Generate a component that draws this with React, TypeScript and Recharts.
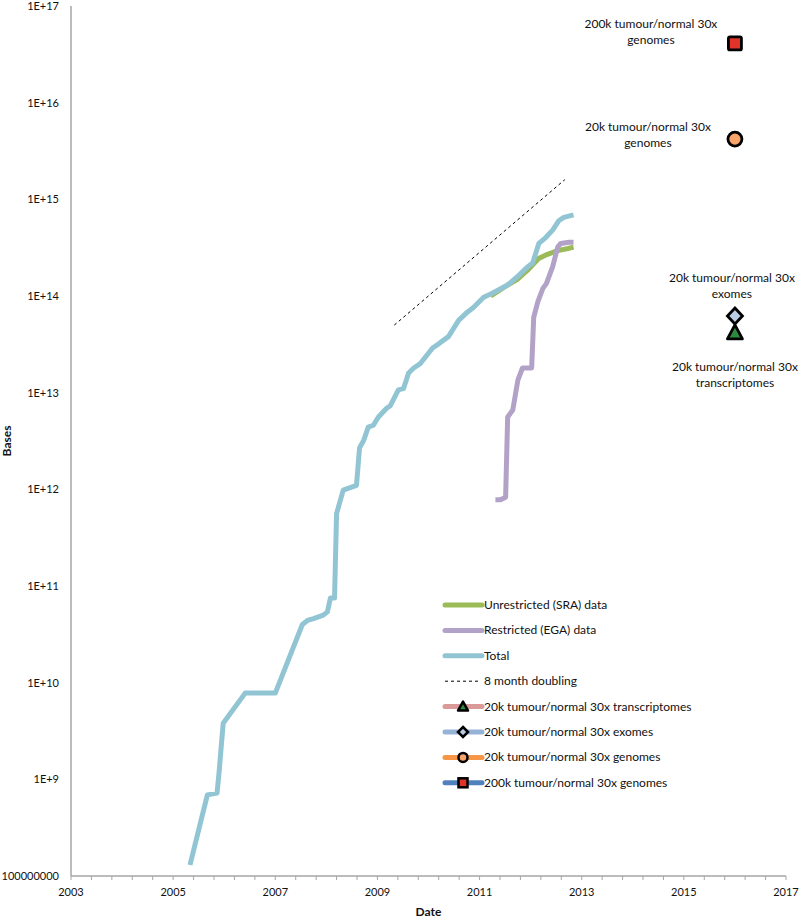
import { ComposedChart, Line, Scatter, XAxis, YAxis } from 'recharts';

const font = 'Lato, "Open Sans", sans-serif';

// years (decimal) and bases
const totalYears = [
  2005.33, 2005.67, 2005.86, 2005.9, 2005.98, 2006.41, 2007.0, 2007.53, 2007.63, 2007.75,
  2007.94, 2008.02, 2008.08, 2008.16, 2008.2, 2008.33, 2008.59, 2008.65, 2008.73, 2008.82,
  2008.92, 2009.02, 2009.18, 2009.25, 2009.41, 2009.51, 2009.61, 2009.71, 2009.84, 2010.08,
  2010.2, 2010.39, 2010.59, 2010.76, 2010.88, 2011.08, 2011.22, 2011.55, 2011.75, 2011.94,
  2012.04, 2012.16, 2012.29, 2012.43, 2012.55, 2012.65, 2012.84,
];
const totalBases = [
  1.3e8, 6.9e8, 7.2e8, 1.2e9, 3.8e9, 7.8e9, 7.8e9, 4.0e10, 4.4e10, 4.6e10,
  5.0e10, 5.4e10, 7.5e10, 7.5e10, 5.6e11, 9.8e11, 1.1e12, 2.7e12, 3.2e12, 4.4e12,
  4.6e12, 5.6e12, 6.9e12, 7.3e12, 1.07e13, 1.1e13, 1.6e13, 1.8e13, 2.0e13, 2.9e13,
  3.2e13, 3.8e13, 5.6e13, 6.8e13, 7.6e13, 9.7e13, 1.05e14, 1.3e14, 1.6e14, 2.0e14,
  2.2e14, 3.5e14, 4.0e14, 4.8e14, 6.0e14, 6.5e14, 6.9e14,
];

const sraYears = [2011.22, 2011.55, 2011.75, 2011.94, 2012.16, 2012.33, 2012.53, 2012.73, 2012.84];
const sraBases = [1.0e14, 1.3e14, 1.5e14, 1.85e14, 2.45e14, 2.7e14, 2.95e14, 3.1e14, 3.2e14];

const egaYears = [
  2011.31, 2011.41, 2011.51, 2011.55, 2011.65, 2011.75, 2011.84, 2012.02, 2012.06, 2012.14,
  2012.24, 2012.31, 2012.43, 2012.53, 2012.59, 2012.75, 2012.84,
];
const egaBases = [
  7.8e11, 7.8e11, 8.3e11, 5.6e12, 6.6e12, 1.35e13, 1.8e13, 1.8e13, 6.0e13, 8.7e13,
  1.2e14, 1.35e14, 2.0e14, 3.2e14, 3.5e14, 3.6e14, 3.6e14,
];

const doublingYears = [2009.33, 2012.67];
const doublingBases = [5e13, 1.6e15];

const projectionYear = 2016;
const transcriptomeBases = 4.2e13;
const exomeBases = 6.2e13;
const genome20kBases = 4.2e15;
const genome200kBases = 4.1e16;

const yTicks = [1e8, 1e9, 1e10, 1e11, 1e12, 1e13, 1e14, 1e15, 1e16, 1e17];
const xLabels = [2003, 2005, 2007, 2009, 2011, 2013, 2015, 2017];
const xTicks = Array.from({ length: 36 }, (_, i) => Math.round((2003 + i * 0.4) * 10) / 10);

const legendItems = [
  'Unrestricted (SRA) data',
  'Restricted (EGA) data',
  'Total',
  '8 month doubling',
  '20k tumour/normal 30x transcriptomes',
  '20k tumour/normal 30x exomes',
  '20k tumour/normal 30x genomes',
  '200k tumour/normal 30x genomes',
];

const pts = (xs: number[], ys: number[]) => xs.map((x, i) => ({ x, y: ys[i] }));

const fmtY = (v: number) => (v === 1e8 ? '100000000' : `1E+${Math.round(Math.log10(v))}`);
const fmtX = (v: number) => (xLabels.includes(v) ? String(v) : '');

const textStyle = { fontFamily: font, fontSize: 12, fill: '#111' };
const tickStyle = { fontFamily: font, fontSize: 11, fill: '#111' };

function TwoLines({ x, y, lines }: { x: number; y: number; lines: string[] }) {
  return (
    <text x={x} y={y} textAnchor="middle" style={textStyle}>
      {lines.map((l, i) => (
        <tspan key={i} x={x} dy={i === 0 ? 0 : 16}>
          {l}
        </tspan>
      ))}
    </text>
  );
}

const SquareMark = (p: any) => (
  <g>
    <rect x={p.cx - 6.5} y={p.cy - 6.5} width={13} height={13} rx={1.5} fill="#E2332B" stroke="#000" strokeWidth={2.8} />
    <TwoLines x={p.cx - 84} y={p.cy - 15} lines={['200k tumour/normal 30x', 'genomes']} />
  </g>
);

const CircleMark = (p: any) => (
  <g>
    <circle cx={p.cx} cy={p.cy} r={7} fill="#F9A46B" stroke="#000" strokeWidth={2.8} />
    <TwoLines x={p.cx - 87} y={p.cy - 8} lines={['20k tumour/normal 30x', 'genomes']} />
  </g>
);

const DiamondMark = (p: any) => (
  <g>
    <path
      d={`M${p.cx},${p.cy - 8} L${p.cx + 7.5},${p.cy} L${p.cx},${p.cy + 8} L${p.cx - 7.5},${p.cy} Z`}
      fill="#B9CDE5"
      stroke="#000"
      strokeWidth={2.8}
    />
    <TwoLines x={p.cx - 3} y={p.cy - 34} lines={['20k tumour/normal 30x', 'exomes']} />
  </g>
);

const TriangleMark = (p: any) => (
  <g>
    <path
      d={`M${p.cx},${p.cy - 7.5} L${p.cx + 7.5},${p.cy + 6.5} L${p.cx - 7.5},${p.cy + 6.5} Z`}
      fill="#2E8B3E"
      stroke="#000"
      strokeWidth={2.8}
      strokeLinejoin="round"
    />
    <TwoLines x={p.cx} y={p.cy + 39} lines={['20k tumour/normal 30x', 'transcriptomes']} />
  </g>
);

function LegendBox() {
  const x0 = 445;
  const x1 = 482;
  const mx = 463;
  const rowY = (i: number) => 605 + i * 25.4;
  const colors = ['#9BBB59', '#B3A2C7', '#92C5D3'];
  const projColors = ['#DA9A98', '#95B3D7', '#F79646', '#4F81BD'];
  return (
    <svg
      width={800}
      height={918}
      style={{ position: 'absolute', left: 0, top: 0, pointerEvents: 'none' }}
    >
      {legendItems.map((label, i) => {
        const y = rowY(i);
        let mark = null;
        if (i < 3) {
          mark = <line x1={x0} x2={x1} y1={y} y2={y} stroke={colors[i]} strokeWidth={5} strokeLinecap="round" />;
        } else if (i === 3) {
          mark = <line x1={x0} x2={x1 - 4} y1={y} y2={y} stroke="#000" strokeWidth={1} strokeDasharray="3 3" />;
        } else {
          const c = projColors[i - 4];
          const line = <line x1={x0} x2={x1} y1={y} y2={y} stroke={c} strokeWidth={5} strokeLinecap="round" />;
          let m = null;
          if (i === 4)
            m = <path d={`M${mx},${y - 5} L${mx + 5},${y + 4} L${mx - 5},${y + 4} Z`} fill="#2E8B3E" stroke="#000" strokeWidth={2.5} strokeLinejoin="round" />;
          if (i === 5)
            m = <path d={`M${mx},${y - 5} L${mx + 5},${y} L${mx},${y + 5} L${mx - 5},${y} Z`} fill="#B9CDE5" stroke="#000" strokeWidth={2.5} />;
          if (i === 6) m = <circle cx={mx} cy={y} r={4.5} fill="#F9A46B" stroke="#000" strokeWidth={2.5} />;
          if (i === 7)
            m = <rect x={mx - 4.5} y={y - 4.5} width={9} height={9} fill="#E2332B" stroke="#000" strokeWidth={2.5} />;
          mark = (
            <g>
              {line}
              {m}
            </g>
          );
        }
        return (
          <g key={label}>
            {mark}
            <text x={x1 + 2} y={y + 4} style={textStyle}>
              {label}
            </text>
          </g>
        );
      })}
    </svg>
  );
}

export default function App() {
  return (
    <div style={{ position: 'absolute', left: 0, top: 0, width: 800, height: 918, background: '#fff' }}>
      <ComposedChart width={800} height={918} margin={{ top: 6, right: 14, bottom: 0, left: 0 }}>
        <XAxis
          type="number"
          dataKey="x"
          domain={[2003, 2017]}
          ticks={xTicks}
          interval={0}
          tickFormatter={fmtX}
          height={42}
          tickSize={4}
          tickMargin={8}
          axisLine={{ stroke: '#A6A6A6', strokeWidth: 1.5 }}
          tickLine={{ stroke: '#A6A6A6' }}
          tick={{ ...tickStyle }}
          label={{ value: 'Date', position: 'insideBottom', offset: 2, style: { ...textStyle, fontWeight: 700 } }}
        />
        <YAxis
          type="number"
          dataKey="y"
          scale="log"
          domain={[1e8, 1e17]}
          allowDataOverflow
          ticks={yTicks}
          interval={0}
          tickFormatter={fmtY}
          width={71}
          tickSize={0}
          tickMargin={12}
          tickLine={false}
          axisLine={{ stroke: '#A6A6A6', strokeWidth: 1.5 }}
          tick={{ ...tickStyle }}
          label={{
            value: 'Bases',
            angle: -90,
            position: 'insideLeft',
            offset: 7,
            style: { ...textStyle, fontWeight: 700, textAnchor: 'middle' },
          }}
        />
        <Line
          data={pts(sraYears, sraBases)}
          dataKey="y"
          type="linear"
          stroke="#9BBB59"
          strokeWidth={5}
          dot={false}
          strokeLinejoin="round"
          isAnimationActive={false}
        />
        <Line
          data={pts(egaYears, egaBases)}
          dataKey="y"
          type="linear"
          stroke="#B3A2C7"
          strokeWidth={5}
          dot={false}
          strokeLinejoin="round"
          isAnimationActive={false}
        />
        <Line
          data={pts(totalYears, totalBases)}
          dataKey="y"
          type="linear"
          stroke="#92C5D3"
          strokeWidth={5}
          dot={false}
          strokeLinejoin="round"
          isAnimationActive={false}
        />
        <Line
          data={pts(doublingYears, doublingBases)}
          dataKey="y"
          type="linear"
          stroke="#000"
          strokeWidth={1}
          strokeDasharray="3 3"
          dot={false}
          isAnimationActive={false}
        />
        <Scatter data={pts([projectionYear], [transcriptomeBases])} dataKey="y" shape={TriangleMark} isAnimationActive={false} />
        <Scatter data={pts([projectionYear], [exomeBases])} dataKey="y" shape={DiamondMark} isAnimationActive={false} />
        <Scatter data={pts([projectionYear], [genome20kBases])} dataKey="y" shape={CircleMark} isAnimationActive={false} />
        <Scatter data={pts([projectionYear], [genome200kBases])} dataKey="y" shape={SquareMark} isAnimationActive={false} />
      </ComposedChart>
      <LegendBox />
    </div>
  );
}
